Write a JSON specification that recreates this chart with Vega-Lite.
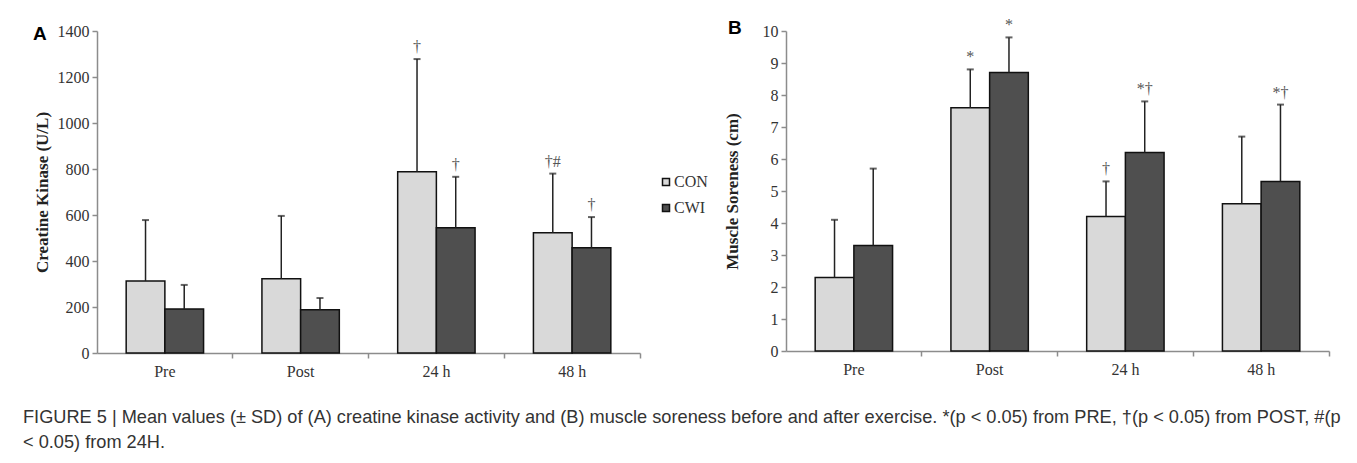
{
  "$schema": "https://vega.github.io/schema/vega-lite/v6.json",
  "background": "white",
  "padding": {"left": 23, "top": 17, "right": 5, "bottom": 5},
  "datasets": {
    "ck": [
      {"time": "Pre", "group": "CON", "value": 313, "err": 578, "sig": ""},
      {"time": "Pre", "group": "CWI", "value": 191, "err": 296, "sig": ""},
      {"time": "Post", "group": "CON", "value": 323, "err": 596, "sig": ""},
      {"time": "Post", "group": "CWI", "value": 188, "err": 239, "sig": ""},
      {"time": "24 h", "group": "CON", "value": 788, "err": 1278, "sig": "†"},
      {"time": "24 h", "group": "CWI", "value": 545, "err": 766, "sig": "†"},
      {"time": "48 h", "group": "CON", "value": 523, "err": 780, "sig": "†#"},
      {"time": "48 h", "group": "CWI", "value": 458, "err": 591, "sig": "†"}
    ],
    "sore": [
      {"time": "Pre", "group": "CON", "value": 2.3, "err": 4.1, "sig": ""},
      {"time": "Pre", "group": "CWI", "value": 3.3, "err": 5.7, "sig": ""},
      {"time": "Post", "group": "CON", "value": 7.6, "err": 8.8, "sig": "*"},
      {"time": "Post", "group": "CWI", "value": 8.7, "err": 9.8, "sig": "*"},
      {"time": "24 h", "group": "CON", "value": 4.2, "err": 5.3, "sig": "†"},
      {"time": "24 h", "group": "CWI", "value": 6.2, "err": 7.8, "sig": "*†"},
      {"time": "48 h", "group": "CON", "value": 4.6, "err": 6.7, "sig": ""},
      {"time": "48 h", "group": "CWI", "value": 5.3, "err": 7.7, "sig": "*†"}
    ]
  },
  "title": {
    "text": ["FIGURE 5 | Mean values (± SD) of (A) creatine kinase activity and (B) muscle soreness before and after exercise. *(p < 0.05) from PRE, †(p < 0.05) from POST, #(p", "< 0.05) from 24H."],
    "orient": "bottom", "anchor": "start", "frame": "bounds",
    "font": "Liberation Sans", "fontSize": 18.2, "fontWeight": "normal", "color": "#333",
    "lineHeight": 25, "offset": 30, "dx": -10
  },
  "spacing": 146,
  "bounds": "flush",
  "resolve": {"legend": {"color": "independent"}},
  "config": {
    "view": {"stroke": null},
    "axis": {
      "grid": false,
      "domainColor": "#8c8c8c", "domainWidth": 1.5,
      "tickColor": "#8c8c8c", "tickWidth": 1.5, "tickSize": 5,
      "labelFont": "Liberation Serif", "labelFontSize": 16, "labelColor": "#333",
      "titleFont": "Liberation Serif", "titleFontSize": 17, "titleFontWeight": "bold", "titleColor": "#222"
    },
    "title": {"font": "Liberation Sans", "fontSize": 19, "fontWeight": "bold", "color": "#000"}
  },
  "hconcat": [
    {
      "width": 543, "height": 322,
      "title": {"text": "A", "anchor": "start", "frame": "bounds", "offset": 0, "dy": 21},
      "data": {"name": "ck"},
      "encoding": {
        "x": {"field": "time", "type": "nominal", "sort": ["Pre", "Post", "24 h", "48 h"],
              "scale": {"paddingInner": 0, "paddingOuter": 0},
              "axis": {"title": null, "labelAngle": 0, "labelPadding": 5, "bandPosition": 1}},
        "xOffset": {"field": "group", "type": "nominal", "sort": ["CON", "CWI"],
                    "scale": {"paddingInner": 0, "paddingOuter": 0.754}}
      },
      "layer": [
        {
          "mark": {"type": "bar", "stroke": "#111", "strokeWidth": 1.5},
          "encoding": {
            "y": {"field": "value", "type": "quantitative", "scale": {"domain": [0, 1400]},
                  "axis": {"title": "Creatine Kinase (U/L)", "format": "d", "values": [0, 200, 400, 600, 800, 1000, 1200, 1400], "labelOverlap": false, "titlePadding": 6, "labelPadding": 3}},
            "color": {"field": "group", "type": "nominal",
                      "scale": {"domain": ["CON", "CWI"], "range": ["#d9d9d9", "#4f4f4f"]},
                      "legend": {"title": null, "orient": "none", "legendX": 561, "legendY": 143,
                                 "symbolType": "square", "symbolSize": 49, "symbolStrokeColor": "#111", "symbolStrokeWidth": 1.5,
                                 "labelFont": "Liberation Serif", "labelFontSize": 16, "labelColor": "#333", "labelOffset": 0, "rowPadding": 10}}
          }
        },
        {
          "mark": {"type": "rule", "color": "#222", "strokeWidth": 1.5},
          "encoding": {"y": {"field": "value", "type": "quantitative",
                  "axis": {"title": "Creatine Kinase (U/L)", "format": "d", "values": [0, 200, 400, 600, 800, 1000, 1200, 1400], "labelOverlap": false, "titlePadding": 6, "labelPadding": 3}}, "y2": {"field": "err"}}
        },
        {
          "mark": {"type": "tick", "color": "#222", "thickness": 2, "size": 7},
          "encoding": {"y": {"field": "err", "type": "quantitative",
                  "axis": {"title": "Creatine Kinase (U/L)", "format": "d", "values": [0, 200, 400, 600, 800, 1000, 1200, 1400], "labelOverlap": false, "titlePadding": 6, "labelPadding": 3}}}
        },
        {
          "mark": {"type": "text", "baseline": "bottom", "dy": -4, "font": "Liberation Serif", "fontSize": 16, "fill": "#555"},
          "encoding": {"y": {"field": "err", "type": "quantitative",
                  "axis": {"title": "Creatine Kinase (U/L)", "format": "d", "values": [0, 200, 400, 600, 800, 1000, 1200, 1400], "labelOverlap": false, "titlePadding": 6, "labelPadding": 3}}, "text": {"field": "sig"}}
        }
      ]
    },
    {
      "width": 543, "height": 320,
      "title": {"text": "B", "anchor": "start", "frame": "bounds", "offset": 0, "dy": 21, "dx": 5},
      "data": {"name": "sore"},
      "encoding": {
        "x": {"field": "time", "type": "nominal", "sort": ["Pre", "Post", "24 h", "48 h"],
              "scale": {"paddingInner": 0, "paddingOuter": 0},
              "axis": {"title": null, "labelAngle": 0, "labelPadding": 5, "bandPosition": 1}},
        "xOffset": {"field": "group", "type": "nominal", "sort": ["CON", "CWI"],
                    "scale": {"paddingInner": 0, "paddingOuter": 0.754}}
      },
      "layer": [
        {
          "mark": {"type": "bar", "stroke": "#111", "strokeWidth": 1.5},
          "encoding": {
            "y": {"field": "value", "type": "quantitative", "scale": {"domain": [0, 10]},
                  "axis": {"title": "Muscle Soreness (cm)", "values": [0, 1, 2, 3, 4, 5, 6, 7, 8, 9, 10], "labelOverlap": false, "titlePadding": 21, "labelPadding": 3}},
            "color": {"field": "group", "type": "nominal",
                      "scale": {"domain": ["CON", "CWI"], "range": ["#d9d9d9", "#4f4f4f"]},
                      "legend": null}
          }
        },
        {
          "mark": {"type": "rule", "color": "#222", "strokeWidth": 1.5},
          "encoding": {"y": {"field": "value", "type": "quantitative",
                  "axis": {"title": "Muscle Soreness (cm)", "values": [0, 1, 2, 3, 4, 5, 6, 7, 8, 9, 10], "labelOverlap": false, "titlePadding": 21, "labelPadding": 3}}, "y2": {"field": "err"}}
        },
        {
          "mark": {"type": "tick", "color": "#222", "thickness": 2, "size": 7},
          "encoding": {"y": {"field": "err", "type": "quantitative",
                  "axis": {"title": "Muscle Soreness (cm)", "values": [0, 1, 2, 3, 4, 5, 6, 7, 8, 9, 10], "labelOverlap": false, "titlePadding": 21, "labelPadding": 3}}}
        },
        {
          "mark": {"type": "text", "baseline": "bottom", "dy": -4, "font": "Liberation Serif", "fontSize": 16, "fill": "#555"},
          "encoding": {"y": {"field": "err", "type": "quantitative",
                  "axis": {"title": "Muscle Soreness (cm)", "values": [0, 1, 2, 3, 4, 5, 6, 7, 8, 9, 10], "labelOverlap": false, "titlePadding": 21, "labelPadding": 3}}, "text": {"field": "sig"}}
        }
      ]
    }
  ]
}
